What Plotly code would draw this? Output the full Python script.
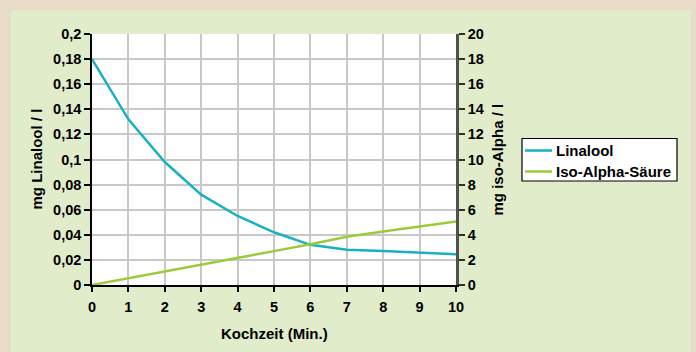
import plotly.graph_objects as go

# Data
kochzeit = [0, 1, 2, 3, 4, 5, 6, 7, 8, 9, 10]
linalool = [0.18, 0.132, 0.098, 0.072, 0.055, 0.042, 0.032, 0.028, 0.027, 0.026, 0.0245]
iso_alpha = [0, 0.53, 1.07, 1.62, 2.16, 2.7, 3.25, 3.85, 4.27, 4.67, 5.07]
series_names = ["Linalool", "Iso-Alpha-Säure"]

y1_ticks = [0, 0.02, 0.04, 0.06, 0.08, 0.1, 0.12, 0.14, 0.16, 0.18, 0.2]
y2_ticks = [0, 2, 4, 6, 8, 10, 12, 14, 16, 18, 20]
x_ticks = [0, 1, 2, 3, 4, 5, 6, 7, 8, 9, 10]

FONT = "Liberation Sans, Arial, sans-serif"
TEAL = "#16b2c2"
GREEN = "#9acb3a"
colors = [TEAL, GREEN]

fig = go.Figure()
fig.add_trace(go.Scatter(x=kochzeit, y=linalool, mode="lines", name=series_names[0],
                         line=dict(color=TEAL, width=2.5), yaxis="y", showlegend=False))
fig.add_trace(go.Scatter(x=kochzeit, y=iso_alpha, mode="lines", name=series_names[1],
                         line=dict(color=GREEN, width=2.5), yaxis="y2", showlegend=False))

L, R, T, B = 92, 456, 34, 285
W, H = 696, 352

def px(xp):
    return (xp - L) / (R - L)

def py(yp):
    return (B - yp) / (B - T)

tickfont = dict(family=FONT, size=14.5, color="black", weight="bold")
bold15 = dict(family=FONT, size=15, color="black", weight="bold")

shapes = [
    dict(type="rect", xref="paper", yref="paper", x0=px(11), x1=px(691), y0=py(10), y1=py(360),
         fillcolor="#e0ecca", line=dict(width=0), layer="below"),
    dict(type="rect", xref="paper", yref="paper", x0=0, x1=1, y0=0, y1=1,
         fillcolor="white", line=dict(width=0), layer="below"),
    # legend box
    dict(type="rect", xref="paper", yref="paper", x0=px(522), x1=px(677), y0=py(138.5), y1=py(181),
         fillcolor="white", line=dict(color="black", width=1.2), layer="above"),
]
annotations = [
    dict(text="mg Linalool / l", x=px(36), y=py(159.5), xref="paper", yref="paper",
         textangle=-90, showarrow=False, xanchor="center", yanchor="middle", font=bold15),
    dict(text="mg iso-Alpha / l", x=px(497), y=py(159.5), xref="paper", yref="paper",
         textangle=-90, showarrow=False, xanchor="center", yanchor="middle", font=bold15),
    dict(text="Kochzeit (Min.)", x=px(274), y=py(333), xref="paper", yref="paper",
         showarrow=False, xanchor="center", yanchor="middle", font=bold15),
]
row_y = [150.5, 171.5]
for name, col, ry in zip(series_names, colors, row_y):
    shapes.append(dict(type="line", xref="paper", yref="paper", x0=px(525), x1=px(552),
                       y0=py(ry), y1=py(ry), line=dict(color=col, width=2.5), layer="above"))
    annotations.append(dict(text=name, x=px(554), y=py(ry), xref="paper", yref="paper",
                            showarrow=False, xanchor="left", yanchor="middle",
                            font=dict(family=FONT, size=15, color="black", weight="bold")))

common = dict(showgrid=False, zeroline=False, showticklabels=False, showline=False,
              ticks="inside", automargin=False)

fig.update_layout(
    width=W, height=H,
    margin=dict(l=L, r=W - R, t=T, b=H - B, pad=0, autoexpand=False),
    paper_bgcolor="#e8dcc8",
    plot_bgcolor="white",
    separators=",.",
    showlegend=False,
    xaxis=dict(range=[0, 10], tickvals=x_ticks, ticks="outside", ticklen=5, tickwidth=1.5,
               tickcolor="black", showline=True, linecolor="black", linewidth=1.5,
               showgrid=True, gridcolor="#c8c8c8", gridwidth=1.5, zeroline=False,
               tickfont=tickfont, ticklabelstandoff=3, automargin=False),
    yaxis=dict(range=[0, 0.2], tickvals=y1_ticks, ticks="outside", ticklen=6, tickwidth=1.5,
               tickcolor="black", showline=True, linecolor="black", linewidth=1.5,
               showgrid=True, gridcolor="#c8c8c8", gridwidth=1.5, zeroline=False,
               tickfont=tickfont, automargin=False),
    yaxis2=dict(range=[0, 20], tickvals=y2_ticks, overlaying="y", side="right",
                ticks="outside", ticklen=6, tickwidth=1.5, tickcolor="#303030",
                showline=True, linecolor="#505050", linewidth=2.5,
                showgrid=False, zeroline=False, tickfont=tickfont, automargin=False),
    xaxis2=dict(range=[0, 10], tickvals=x_ticks, overlaying="x", side="bottom", anchor="y",
                ticklen=4, tickwidth=1.5, tickcolor="black", **common),
    yaxis3=dict(range=[0, 0.2], tickvals=y1_ticks, overlaying="y", side="left", anchor="x",
                ticklen=5, tickwidth=1.5, tickcolor="black", **common),
    yaxis4=dict(range=[0, 20], tickvals=y2_ticks, overlaying="y", side="right", anchor="x",
                ticklen=5, tickwidth=1.5, tickcolor="#303030", **common),
    shapes=shapes,
    annotations=annotations,
)

fig.write_html("out.html", config={"displayModeBar": False},
               post_script="document.body.style.margin='0px';document.body.style.padding='0px';")
